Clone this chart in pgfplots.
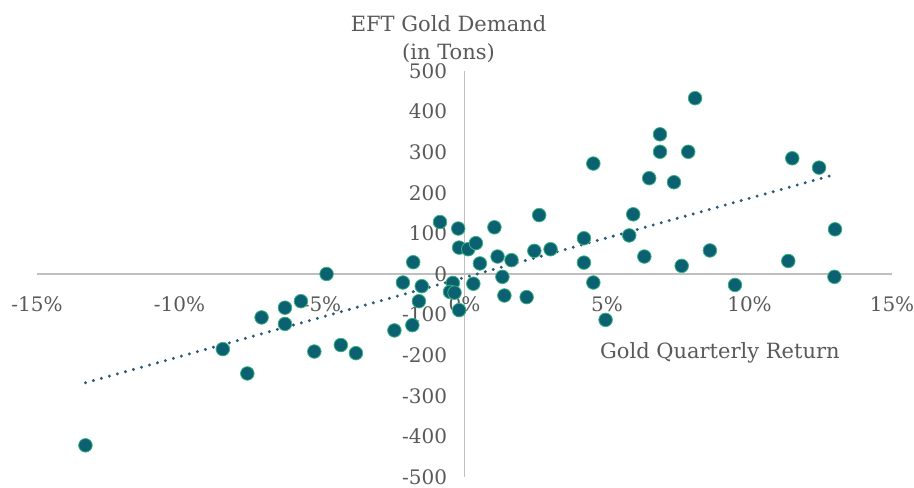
\documentclass[border=0pt]{standalone}
\usepackage{pgfplots}
\pgfplotsset{compat=1.18}
\usepackage{fontspec}
\setmainfont{DejaVu Serif}
\definecolor{labelgray}{HTML}{595959}
\definecolor{axisgray}{HTML}{BFBFBF}
\definecolor{dotfill}{HTML}{0B6172}
\definecolor{dotedge}{HTML}{3DB37F}
\definecolor{trend}{HTML}{2A5878}

\pgfplotstableread{
x y
-13.30 -422
-8.48 -185
-7.62 -245
-7.12 -107
-6.30 -83
-6.30 -123
-5.74 -67
-4.84 0
-5.27 -191
-4.34 -175
-3.81 -195
-2.46 -139
-1.83 -126
-2.16 -21
-1.80 29
-1.50 -30
-1.60 -67
-0.86 128
-0.22 112
-0.19 65
0.13 61
0.40 76
1.05 115
0.54 26
1.16 43
1.33 -7
1.40 -53
1.65 34
2.18 -57
2.45 57
2.62 145
3.02 61
-0.41 -22
0.31 -24
-0.51 -44
-0.35 -46
-0.19 -89
4.19 28
4.52 -21
4.95 -113
6.31 43
7.62 20
8.61 58
9.49 -27
11.36 32
12.98 -7
8.09 433
6.86 344
6.86 301
7.85 301
6.48 236
7.35 226
4.52 272
11.50 285
12.44 262
13.00 110
5.92 147
5.78 95
4.19 88
}\golddata

\begin{document}
\begin{tikzpicture}
\begin{axis}[
  scale only axis, width=855bp, height=406bp,
  xmin=-15, xmax=15, ymin=-500, ymax=500,
  axis lines=middle,
  axis line style={draw=axisgray, line width=1.5bp, -},
  major tick length=0pt,
  hide obscured x ticks=false, hide obscured y ticks=false,
  xtick={-15,-10,-5,0,5,10,15},
  xticklabels={-15\%,-10\%,-5\%,0\%,5\%,10\%,15\%},
  ytick={-500,-400,-300,-200,-100,0,100,200,300,400,500},
  yticklabels={-500,-400,-300,-200,-100,0,100,200,300,400,500},
  ticklabel style={font=\fontsize{20bp}{24bp}\selectfont, text=labelgray},
  xticklabel style={anchor=north, yshift=-19bp},
  yticklabel style={anchor=east, xshift=-14bp},
  clip=false,
]
\addplot[only marks, mark=*, mark size=6.8bp,
  mark options={fill=dotfill, draw=dotedge, line width=0.8bp}]
  table[x=x, y=y] {\golddata};
\addplot[trend, line width=3.3bp, line cap=round, dash pattern=on 0pt off 8.3bp]
  coordinates {(-13.3,-268) (13.0,245)};
\node[align=center, text=labelgray, font=\fontsize{21bp}{28bp}\selectfont]
  at (axis cs:-0.56,578) {EFT Gold Demand\\(in Tons)};
\node[text=labelgray, font=\fontsize{21bp}{25bp}\selectfont]
  at (axis cs:8.96,-195) {Gold Quarterly Return};
\coordinate (sw) at (rel axis cs:0,0);
\coordinate (ne) at (rel axis cs:1,1);
\end{axis}
\pgfresetboundingbox
\path ([shift={(-37bp,-11bp)}]sw) rectangle ([shift={(22bp,71bp)}]ne);
\end{tikzpicture}
\end{document}
